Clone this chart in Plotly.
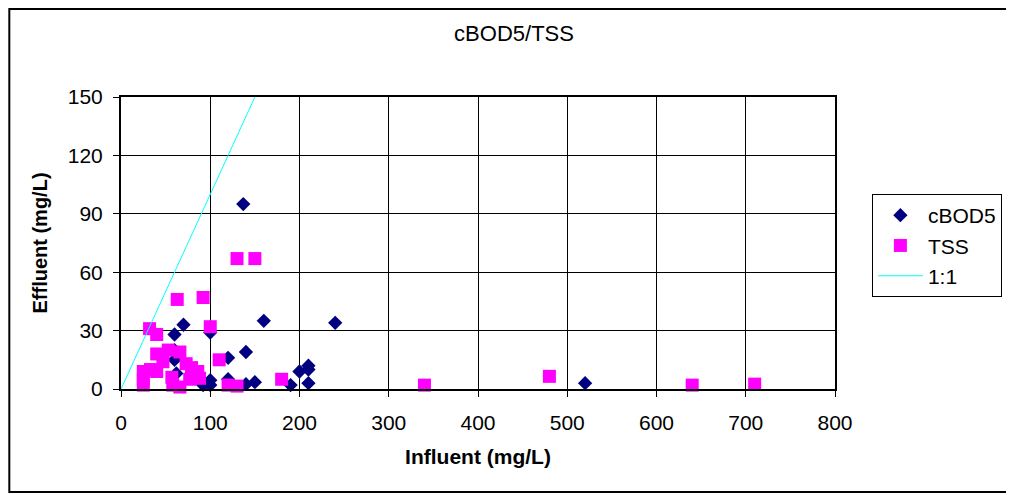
import plotly.graph_objects as go

# values (mg/L)
bod_influent = [137, 160, 240, 70, 60, 100, 140, 120, 60, 60, 200, 210, 210, 210,
                190, 150, 140, 120, 100, 100, 92, 520, 62]
bod_effluent = [95, 35, 34, 33, 28, 29, 19, 16, 20, 15, 9, 12, 10, 3,
                2, 3.5, 2.5, 5, 4.5, 2, 2, 3, 8]

tss_influent = [130, 150, 63, 92, 32, 40, 100, 110, 180, 340, 480, 640, 710,
                40, 53, 66, 47, 73, 25, 40, 79, 86, 25, 57, 58, 66, 77, 88,
                120, 130, 25, 33]
tss_effluent = [67, 67, 46, 47, 31, 28, 32, 15, 5, 2, 6.5, 2, 2.5,
                18, 20, 19, 14, 13, 9, 9, 11, 9, 2, 6, 2, 1, 5, 5.5,
                2, 1.5, 5, 10]

one_to_one = [0, 150]

x_ticks = [0, 100, 200, 300, 400, 500, 600, 700, 800]
y_ticks = [0, 30, 60, 90, 120, 150]

# page body has an 8px margin, so the figure is 8px smaller than the window
W, H = 1006, 487
L, T = 113, 89          # plot area left / top (figure px)
PW, PH = 716, 292       # plot area size

fig = go.Figure()
fig.add_trace(go.Scatter(
    x=bod_influent, y=bod_effluent, mode='markers', name='cBOD5',
    marker=dict(symbol='diamond', size=11, color='#000080'),
    cliponaxis=False
))
fig.add_trace(go.Scatter(
    x=tss_influent, y=tss_effluent, mode='markers', name='TSS',
    marker=dict(symbol='square', size=13, color='#FF00FF'),
    cliponaxis=False
))
fig.add_trace(go.Scatter(
    x=one_to_one, y=one_to_one, mode='lines', name='1:1',
    line=dict(color='#00FFFF', width=1)
))

axis_common = dict(
    showline=True, linecolor='black', linewidth=2, mirror=True,
    showgrid=True, gridcolor='black', gridwidth=1,
    ticks='outside', ticklen=6, tickcolor='black',
    zeroline=False,
    tickfont=dict(family='Arial, Liberation Sans', size=21, color='black'),
)

fig.update_layout(
    width=W, height=H,
    paper_bgcolor='white', plot_bgcolor='white',
    margin=dict(l=L, r=W - L - PW, t=T, b=H - T - PH),
    font=dict(family='Arial, Liberation Sans', color='black'),
    title=dict(text='cBOD5/TSS', x=0.503, xref='container', xanchor='center',
               y=1 - 25 / H, yref='container', yanchor='middle',
               font=dict(size=22, color='black')),
    xaxis=dict(range=[0, 800], tickvals=x_ticks, ticklabelstandoff=8,
               title=dict(text='<b>Influent (mg/L)</b>', standoff=16,
                          font=dict(size=21)),
               **axis_common),
    yaxis=dict(range=[0, 150], tickvals=y_ticks, ticklabelstandoff=6,
               title=dict(text='<b>Effluent (mg/L)</b>', standoff=15,
                          font=dict(size=20)),
               **axis_common),
    legend=dict(x=(866 - L) / PW, y=(T + PH - 186) / PH, xanchor='left', yanchor='top',
                bordercolor='black', borderwidth=1, bgcolor='white',
                font=dict(size=21, color='black'),
                itemwidth=45),
    showlegend=True,
    shapes=[dict(type='rect', xref='paper', yref='paper',
                 x0=(1 - L) / PW, x1=(1002 - L) / PW,
                 y0=(T + PH - 484) / PH, y1=(T + PH - 1) / PH,
                 line=dict(color='black', width=2), layer='below')],
)

fig.write_html("out.html")
